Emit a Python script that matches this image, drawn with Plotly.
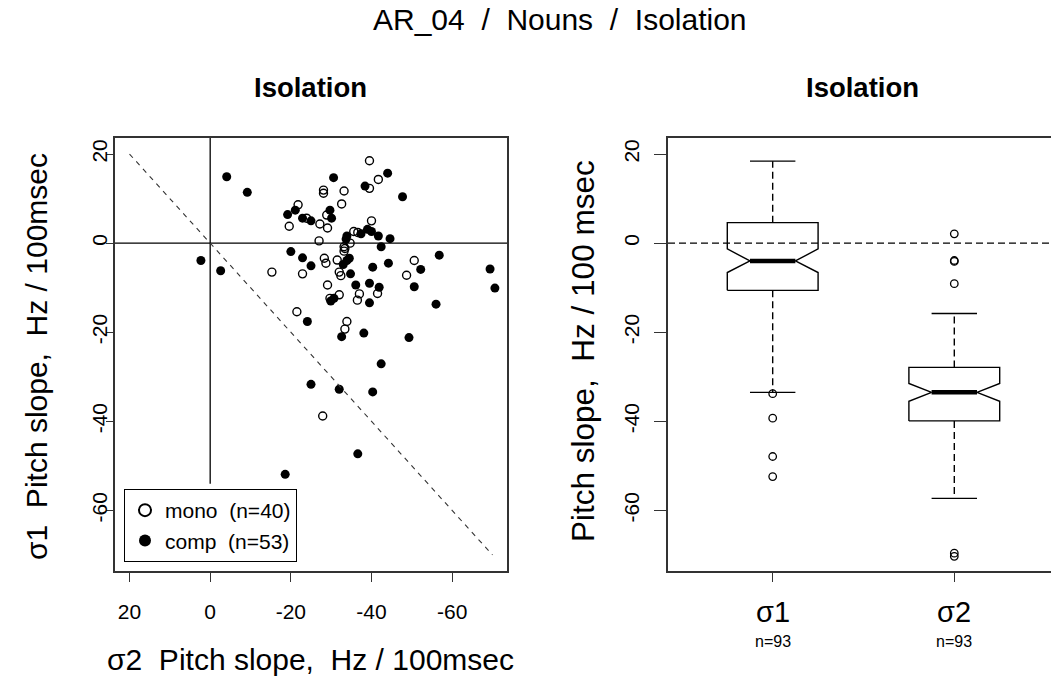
import plotly.graph_objects as go

W, H = 1051, 677

# ---------------- data ----------------
mono_x = [-21.8, -19.6, -15.3, -22.9, -39.5, -41.7, -39.5, -28.1, -28.1, -33.2,
          -32.6, -28.9, -23.9, -27.2, -29.1, -40.0, -35.6, -36.6, -33.4, -34.7,
          -27.0, -28.3, -28.7, -31.5, -32.0, -32.4, -50.6, -48.7, -29.1, -32.0,
          -29.7, -37.0, -36.5, -41.5, -21.5, -33.9, -33.4, -27.9, -33.2, -33.2]
mono_y = [8.6, 3.8, -6.5, -6.9, 18.5, 14.3, 12.3, 11.9, 11.2, 11.7,
          8.8, 6.3, 5.6, 4.3, 3.4, 5.0, 2.6, 2.4, -1.2, 0.0,
          0.5, -3.4, -4.5, -3.8, -6.5, -7.3, -3.9, -7.2, -9.4, -11.6,
          -12.4, -11.4, -12.8, -11.3, -15.4, -17.6, -19.3, -38.8, -0.8, -1.8]

comp_x = [-4.1, -9.2, -21.1, -19.2, -22.9, 2.3, -20.0, -22.9, -2.6, -44.0,
          -30.6, -38.4, -47.7, -29.7, -30.1, -25.0, -39.0, -40.0, -41.7, -37.4,
          -33.9, -33.7, -44.6, -42.4, -25.0, -34.5, -33.9, -33.0, -34.8, -40.3,
          -44.2, -56.8, -52.2, -69.4, -70.6, -36.1, -39.5, -41.9, -50.6, -30.7,
          -39.5, -56.0, -24.1, -32.6, -38.1, -49.3, -42.4, -25.0, -32.0, -40.3,
          -36.6, -18.6, -29.9]
comp_y = [14.9, 11.4, 7.4, 6.4, 5.6, -3.9, -1.9, -3.3, -6.2, 15.7,
          14.7, 12.8, 10.4, 7.4, 5.6, 5.0, 3.1, 2.6, 1.6, 2.1,
          1.6, 0.9, 1.0, -0.8, -5.1, -3.4, -3.9, -4.8, -6.9, -5.4,
          -4.5, -2.7, -5.9, -5.8, -10.1, -9.4, -9.0, -9.9, -9.8, -12.4,
          -13.4, -13.7, -17.6, -21.0, -20.2, -21.2, -27.1, -31.7, -32.8, -33.4,
          -47.3, -51.9, -13.0]

x_ticks = [20, 0, -20, -40, -60]
x_ticktext = ["20", "0", "-20", "-40", "-60"]
y_ticks = [20, 0, -20, -40, -60]
y_ticktext = ["20", "0", "-20", "-40", "-60"]

box_labels = ["σ1", "σ2"]
box_n = ["n=93", "n=93"]
box_pos = [1, 2]
whisk_lo = [-33.5, -57.3]
q1 = [-10.6, -39.9]
med = [-4.0, -33.5]
q3 = [4.6, -27.9]
whisk_hi = [18.4, -15.8]
notch_lo = [-6.6, -35.5]
notch_hi = [-1.3, -31.5]
out_s1 = [-33.8, -39.3, -47.9, -52.4]
out_s2 = [2.1, -3.9, -4.1, -9.1, -69.6, -70.3]

AX_LIM = [23.6, -73.6]

FONT = "Liberation Sans, Arial, sans-serif"

fig = go.Figure()

# ---------------- scatter panel ----------------
fig.add_trace(go.Scatter(
    x=mono_x, y=mono_y, mode="markers", name="mono\u00a0\u00a0(n=40)",
    marker=dict(symbol="circle-open", size=8, color="black", line=dict(width=1.4, color="black")),
    xaxis="x", yaxis="y", showlegend=True))
fig.add_trace(go.Scatter(
    x=comp_x, y=comp_y, mode="markers", name="comp\u00a0\u00a0(n=53)",
    marker=dict(symbol="circle", size=9, color="black"),
    xaxis="x", yaxis="y", showlegend=True))

# ---------------- box panel ----------------
bw = 0.25
nw = 0.125
for i in range(2):
    c = box_pos[i]
    px = [c - bw, c - bw, c - nw, c - bw, c - bw, c + bw, c + bw, c + nw, c + bw, c + bw, c - bw]
    py = [q1[i], notch_lo[i], med[i], notch_hi[i], q3[i], q3[i], notch_hi[i], med[i], notch_lo[i], q1[i], q1[i]]
    fig.add_trace(go.Scatter(x=px, y=py, mode="lines", line=dict(color="black", width=1.4),
                             xaxis="x2", yaxis="y2", showlegend=False, hoverinfo="skip"))
    fig.add_trace(go.Scatter(x=[c - nw, c + nw], y=[med[i], med[i]], mode="lines",
                             line=dict(color="black", width=4.5), xaxis="x2", yaxis="y2",
                             showlegend=False, hoverinfo="skip"))
    for a, b in [(q3[i], whisk_hi[i]), (q1[i], whisk_lo[i])]:
        fig.add_trace(go.Scatter(x=[c, c], y=[a, b], mode="lines",
                                 line=dict(color="black", width=1.4, dash="7px,4px"),
                                 xaxis="x2", yaxis="y2", showlegend=False, hoverinfo="skip"))
        fig.add_trace(go.Scatter(x=[c - nw, c + nw], y=[b, b], mode="lines",
                                 line=dict(color="black", width=1.4),
                                 xaxis="x2", yaxis="y2", showlegend=False, hoverinfo="skip"))

for c, outs in zip(box_pos, [out_s1, out_s2]):
    fig.add_trace(go.Scatter(x=[c] * len(outs), y=outs, mode="markers",
                             marker=dict(symbol="circle-open", size=7.5, color="black",
                                         line=dict(width=1.3, color="black")),
                             xaxis="x2", yaxis="y2", showlegend=False, hoverinfo="skip"))

# ---------------- reference lines ----------------
shapes = [
    dict(type="line", xref="x domain", yref="y", x0=0, x1=1, y0=0, y1=0,
         line=dict(color="black", width=1.3)),
    dict(type="line", xref="x", yref="y", x0=0, x1=0, y0=-54, y1=AX_LIM[0],
         line=dict(color="black", width=1.3)),
    dict(type="line", xref="x", yref="y", x0=20, x1=-70, y0=20, y1=-70,
         line=dict(color="#333", width=1.1, dash="5px,5px")),
    dict(type="line", xref="x2 domain", yref="y2", x0=0, x1=1, y0=0, y1=0,
         line=dict(color="black", width=1.3, dash="7px,4px")),
]

# ---------------- layout ----------------
yd = [1 - 571 / H, 1 - 138 / H]
axis_common = dict(showgrid=False, zeroline=False, showline=True, linecolor="#333",
                   linewidth=1.6, ticks="outside", tickcolor="#333", tickwidth=1.4,
                   tickfont=dict(family=FONT, size=21, color="black"))


def ann(text, x, y, size, xref="paper", angle=0):
    return dict(text=text, x=x, y=y, xref=xref, yref="paper", showarrow=False,
                xanchor="center", yanchor="middle", textangle=angle,
                font=dict(family=FONT, size=size, color="black"))


anns = [
    ann("AR_04\u00a0\u00a0/\u00a0\u00a0Nouns\u00a0\u00a0/\u00a0\u00a0Isolation", 560 / W, 1 - 20 / H, 30),
    ann("<b>Isolation</b>", 310 / W, 1 - 87 / H, 27.5),
    ann("<b>Isolation</b>", 862 / W, 1 - 87 / H, 27.5),
    ann("σ1\u00a0\u00a0Pitch slope,\u00a0\u00a0Hz / 100msec", 36 / W, 1 - 357 / H, 30, angle=-90),
    ann("σ2\u00a0\u00a0Pitch slope,\u00a0\u00a0Hz / 100msec", 310 / W, 1 - 659 / H, 30),
    ann("Pitch slope,\u00a0\u00a0Hz / 100 msec", 583 / W, 1 - 351 / H, 31.5, angle=-90),
]
for c, lab, n in zip(box_pos, box_labels, box_n):
    anns.append(ann(lab, c, 1 - 612 / H, 29, xref="x2"))
    anns.append(ann(n, c, 1 - 641 / H, 16, xref="x2"))

fig.update_layout(
    width=W, height=H, margin=dict(l=0, r=0, t=0, b=0),
    paper_bgcolor="white", plot_bgcolor="white",
    font=dict(family=FONT, color="black"),
    xaxis=dict(domain=[115 / W, 507 / W], range=AX_LIM, tickvals=x_ticks, ticktext=x_ticktext,
               ticklen=9, mirror=True, anchor="y", ticklabelstandoff=12, **axis_common),
    yaxis=dict(domain=yd, range=AX_LIM[::-1], tickvals=y_ticks, ticktext=y_ticktext,
               ticklen=7, tickangle=-90, mirror=True, anchor="x", ticklabelstandoff=-9,
               **axis_common),
    xaxis2=dict(domain=[668 / W, 1.0], range=[0.4235, 2.5325], tickvals=box_pos, ticklen=9,
                showticklabels=False, mirror=True, anchor="y2", **axis_common),
    yaxis2=dict(domain=yd, range=AX_LIM[::-1], tickvals=y_ticks, ticktext=y_ticktext,
                ticklen=12, tickangle=-90, mirror=False, anchor="x2", ticklabelstandoff=7,
                **axis_common),
    shapes=shapes, annotations=anns,
    legend=dict(x=124 / W, y=1 - 489 / H, xanchor="left", yanchor="top",
                bgcolor="white", bordercolor="black", borderwidth=1,
                font=dict(family=FONT, size=21, color="black"), itemsizing="constant",
                tracegroupgap=0),
    showlegend=True,
)

fig.write_html("out.html")
